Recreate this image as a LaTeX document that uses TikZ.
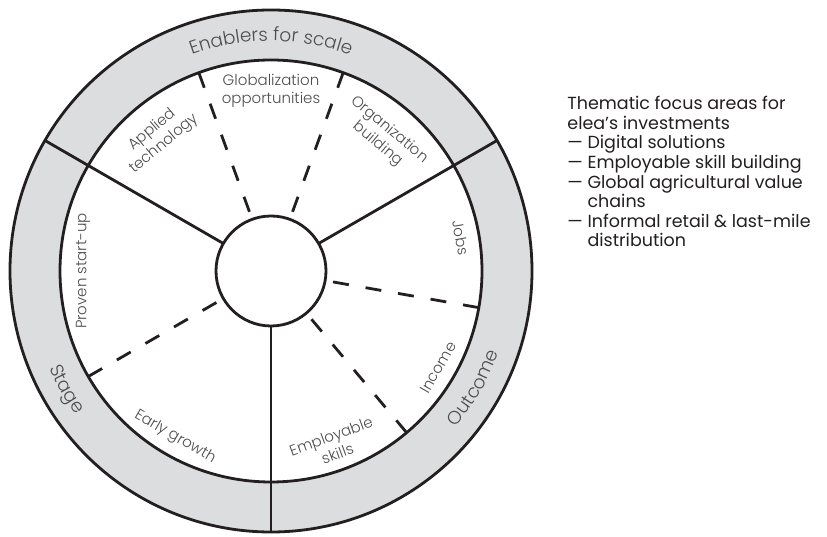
\documentclass[tikz,border=0pt]{standalone}
\usepackage{fontspec}
\setmainfont{Poppins}
\newfontfamily\lightfont{Poppins Light}
\usetikzlibrary{decorations.text}

\definecolor{ringgrey}{HTML}{DCDDDF}
\definecolor{wheelink}{HTML}{231F20}
\definecolor{labelgrey}{HTML}{4D4D4F}
\definecolor{legendink}{HTML}{231F20}

\newcommand\ringfont{\lightfont\fontsize{18.5}{22}\selectfont}
\newcommand\dashitem{—\ }
\newcommand\dashgap{\phantom{—}\ }

\begin{document}
\begin{tikzpicture}[
    x=1pt,
    y=1pt,
    line width=2.8pt,
    hub/.style={
        circle,
        draw=wheelink,
        fill=white,
        minimum size=110pt,
        inner sep=0pt,
        outer sep=0pt
    },
    spoke/.style={
        draw=wheelink
    },
    divider/.style={
        draw=wheelink,
        dash pattern=on 16pt off 17pt
    },
    sector/.style={
        text=labelgrey,
        align=center,
        inner sep=0pt,
        font=\lightfont\fontsize{15}{18.5}\selectfont
    },
    ringtext/.style={
        decorate,
        decoration={
            text along path,
            text align=center,
            text color=labelgrey,
            text={#1}
        }
    },
    legend/.style={
        text=legendink,
        align=left,
        inner sep=0pt,
        font=\fontsize{17.5}{19.6}\selectfont
    }
]
    \useasboundingbox (-271,-266) rectangle (556,271);

    % Grauer Ring
    \fill[ringgrey, even odd rule]
        (0,0) circle[radius=261] (0,0) circle[radius=211];
    \draw[wheelink] (0,0) circle[radius=261];
    \draw[wheelink] (0,0) circle[radius=211];

    % Nabe
    \node[hub] (hub) at (0,0) {};

    % Hauptspeichen
    \foreach \a in {30,150,270}{
        \draw[spoke] (hub.\a) -- (\a:261);
    }

    % Gestrichelte Unterteilungen
    \foreach \a in {70,110,210,310,350}{
        \draw[divider] (\a:211) -- (hub.\a);
    }

    % Beschriftung der Segmente
    \node[sector] (glob) at (90:180) {Globalization\\opportunities};
    \node[sector, rotate=40] (appl) at (130:175) {Applied\\technology};
    \node[sector, rotate=-40] (orgb) at (50:175) {Organization\\building};
    \node[sector, rotate=-80] (jobs) at (10:193) {Jobs};
    \node[sector, rotate=60] (inc) at (330:193) {Income};
    \node[sector, rotate=20] (empl) at (290:185) {Employable\\skills};
    \node[sector, rotate=-30] (early) at (240:192) {Early growth};
    \node[sector, rotate=90] (prov) at (180:188) {Proven start-up};

    % Ringtexte
    \path[ringtext={|\ringfont|Enablers for scale}]
        (135:230) arc[start angle=135, end angle=45, radius=230];
    \path[ringtext={|\ringfont|Stage}]
        (180:242) arc[start angle=180, end angle=240, radius=242];
    \path[ringtext={|\ringfont|Outcome}]
        (300:242) arc[start angle=300, end angle=360, radius=242];

    % Legende
    \node[legend, anchor=north west] (focus) at (295,176) {
        Thematic focus areas for\\
        elea’s investments\\
        \dashitem Digital solutions\\
        \dashitem Employable skill building\\
        \dashitem Global agricultural value\\
        \dashgap chains\\
        \dashitem Informal retail \& last-mile\\
        \dashgap distribution
    };

\end{tikzpicture}
\end{document}
